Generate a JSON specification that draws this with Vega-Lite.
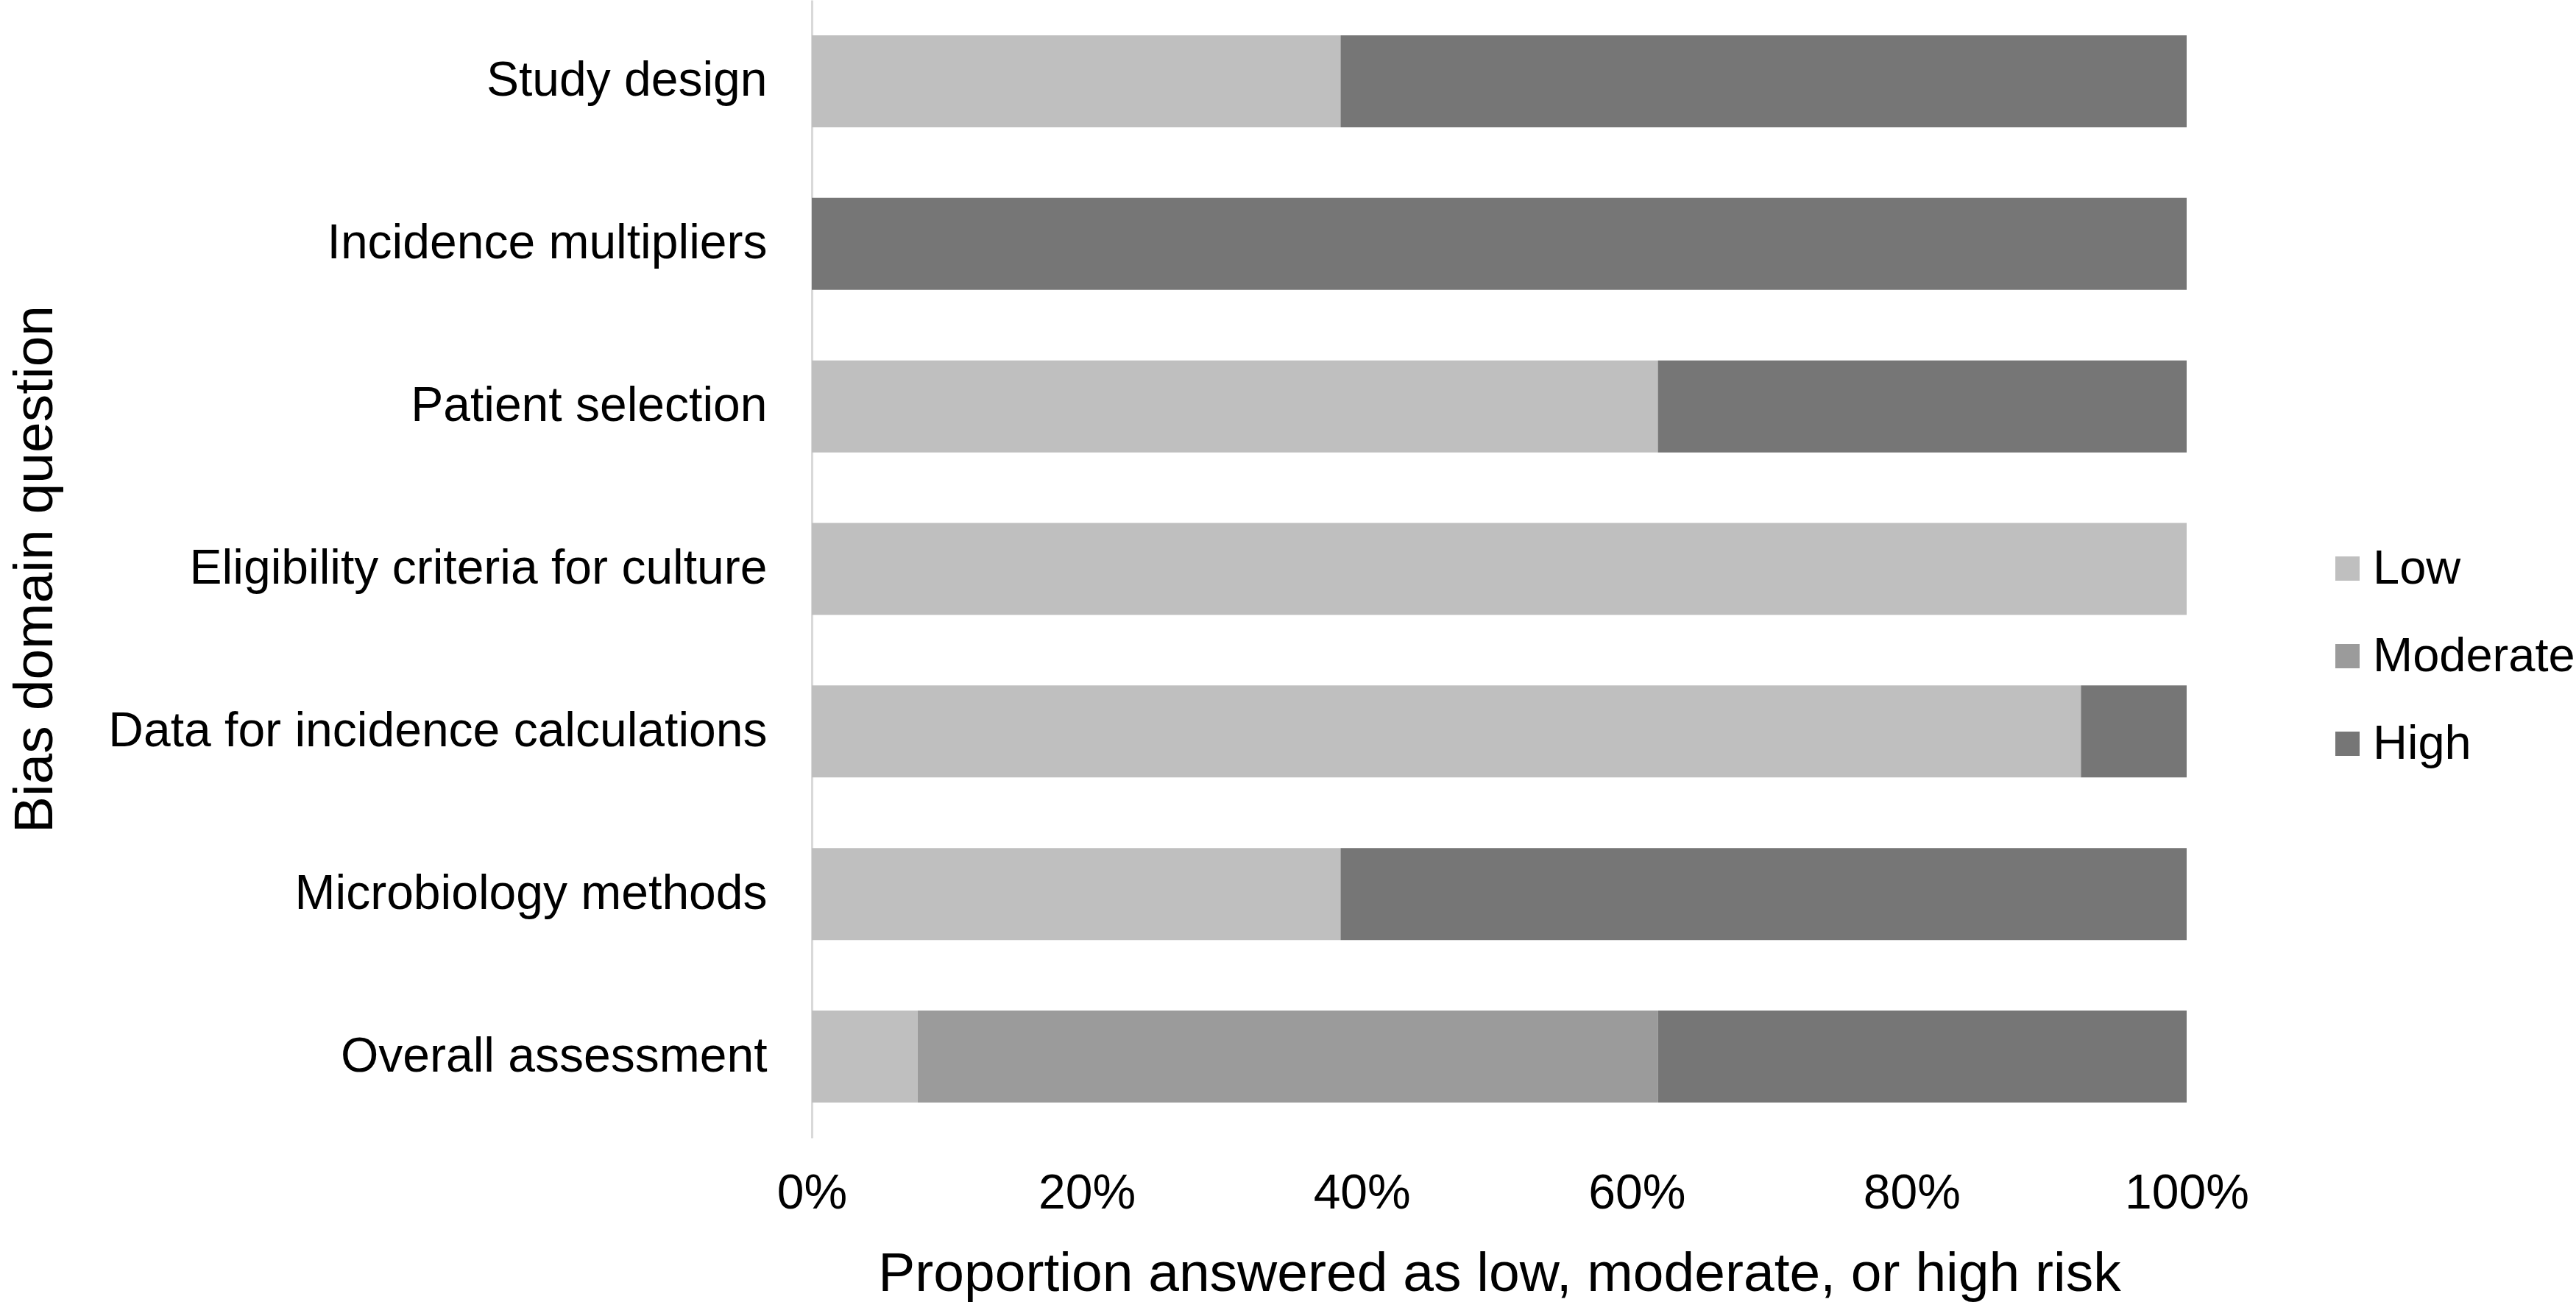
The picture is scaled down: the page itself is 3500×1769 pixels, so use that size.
{
  "$schema": "https://vega.github.io/schema/vega-lite/v6.json",
  "width": 1868,
  "height": 1546,
  "autosize": {"type": "none"},
  "padding": {"left": 1103, "top": 0, "right": 529, "bottom": 223},
  "background": "white",
  "config": {"font": "Liberation Sans", "view": {"stroke": null}},
  "data": {
    "values": [
      {"question": "Study design", "risk": "Low", "rank": 1, "proportion": 0.3846},
      {"question": "Study design", "risk": "High", "rank": 3, "proportion": 0.6154},
      {"question": "Incidence multipliers", "risk": "High", "rank": 3, "proportion": 1.0},
      {"question": "Patient selection", "risk": "Low", "rank": 1, "proportion": 0.6154},
      {"question": "Patient selection", "risk": "High", "rank": 3, "proportion": 0.3846},
      {"question": "Eligibility criteria for culture", "risk": "Low", "rank": 1, "proportion": 1.0},
      {"question": "Data for incidence calculations", "risk": "Low", "rank": 1, "proportion": 0.9231},
      {"question": "Data for incidence calculations", "risk": "High", "rank": 3, "proportion": 0.0769},
      {"question": "Microbiology methods", "risk": "Low", "rank": 1, "proportion": 0.3846},
      {"question": "Microbiology methods", "risk": "High", "rank": 3, "proportion": 0.6154},
      {"question": "Overall assessment", "risk": "Low", "rank": 1, "proportion": 0.0769},
      {"question": "Overall assessment", "risk": "Moderate", "rank": 2, "proportion": 0.5385},
      {"question": "Overall assessment", "risk": "High", "rank": 3, "proportion": 0.3846}
    ]
  },
  "mark": {"type": "bar", "strokeWidth": 0},
  "encoding": {
    "y": {
      "field": "question",
      "type": "nominal",
      "sort": ["Study design", "Incidence multipliers", "Patient selection", "Eligibility criteria for culture", "Data for incidence calculations", "Microbiology methods", "Overall assessment"],
      "scale": {"paddingInner": 0.434, "paddingOuter": 0.217},
      "axis": {
        "title": "Bias domain question",
        "titleFontSize": 75,
        "titleFontWeight": "normal",
        "titleColor": "#000000",
        "titleX": -1056,
        "titleY": 773,
        "titleAngle": -90,
        "titleAlign": "center",
        "titleBaseline": "middle",
        "labelFontSize": 66,
        "labelColor": "#000000",
        "labelPadding": 61,
        "labelLimit": 2000,
        "ticks": false,
        "grid": false,
        "domainColor": "#d9d9d9",
        "domainWidth": 3
      }
    },
    "x": {
      "field": "proportion",
      "type": "quantitative",
      "stack": "zero",
      "scale": {"domain": [0, 1], "nice": false},
      "axis": {
        "title": "Proportion answered as low, moderate, or high risk",
        "titleFontSize": 75,
        "titleFontWeight": "normal",
        "titleColor": "#000000",
        "titlePadding": 40,
        "labelFontSize": 66,
        "labelColor": "#000000",
        "labelPadding": 43,
        "labelFlush": false,
        "format": ".0%",
        "values": [0, 0.2, 0.4, 0.6, 0.8, 1],
        "domain": false,
        "ticks": false,
        "grid": false
      }
    },
    "order": {"field": "rank", "type": "quantitative", "sort": "ascending"},
    "color": {
      "field": "risk",
      "type": "nominal",
      "sort": ["Low", "Moderate", "High"],
      "scale": {"domain": ["Low", "Moderate", "High"], "range": ["#bfbfbf", "#9b9b9b", "#767676"]},
      "legend": {
        "title": null,
        "orient": "none",
        "legendX": 2054,
        "legendY": 740,
        "labelFontSize": 65,
        "labelColor": "#000000",
        "labelLimit": 1000,
        "symbolType": "square",
        "symbolSize": 1089,
        "symbolStrokeWidth": 0,
        "rowPadding": 53,
        "labelOffset": 2
      }
    }
  }
}
